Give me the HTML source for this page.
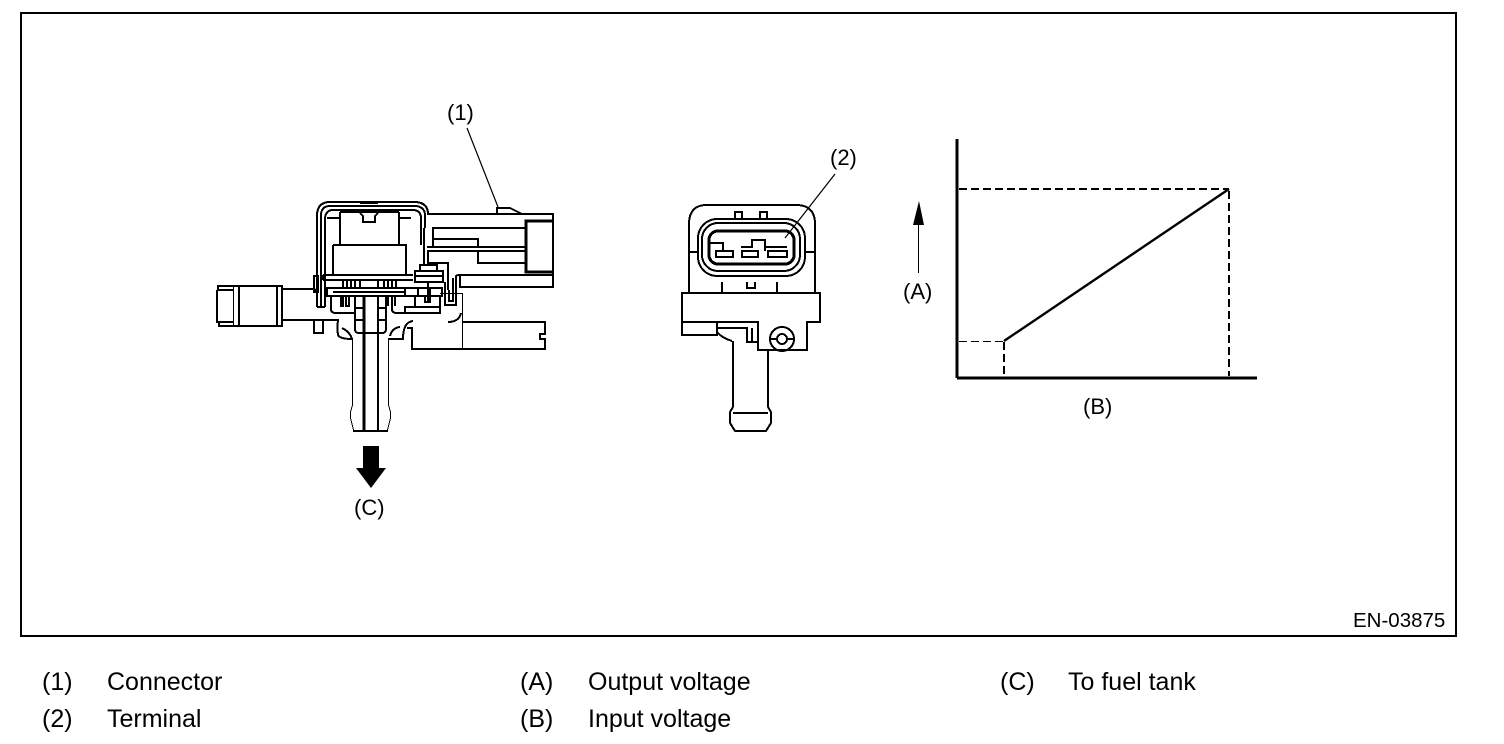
<!DOCTYPE html>
<html><head><meta charset="utf-8"><style>
html,body{margin:0;padding:0;background:#fff;width:1504px;height:744px;overflow:hidden}
svg{display:block}
text{font-family:"Liberation Sans",sans-serif;fill:#000}
.d{font-size:22px}.l{font-size:25px}
.t{fill:none;stroke:#000;stroke-width:2;shape-rendering:crispEdges}
.m{fill:none;stroke:#000;stroke-width:3;shape-rendering:crispEdges}
.n{fill:none;stroke:#000;stroke-width:1;shape-rendering:crispEdges}
</style></head><body>
<svg width="1504" height="744" viewBox="0 0 1504 744" xmlns="http://www.w3.org/2000/svg">
<rect x="21" y="13" width="1435" height="623" fill="none" stroke="#000" stroke-width="2" shape-rendering="crispEdges"/>

<!-- Left sensor: housing -->
<g>
<path class="t" d="M317 307V214Q318 202 330 202H416Q428 203 428 214H553V287H460V276"/>
<path class="t" d="M321 307V214Q322 206 330 206H416Q424 207 425 214V228"/>
<path class="t" d="M325 307V218Q326 210 333 210H414Q421 211 421 218V245"/>
<path class="t" d="M317 307H325M360 203H378"/>
<path class="t" d="M340 212V244M399 212V244"/>
<path class="t" d="M327 218H340M399 218H411M340 212H399"/>
<path class="t" d="M360 213L363 216V222H375V216L378 213"/>
<path class="t" d="M333 245H406V275M333 245V275"/>
<path class="t" d="M323 275H413M323 280H413M323 275V280"/>
<path class="t" d="M343 280V288M347 280V288M351 280V288M355 280V288M360 280V288M378 280V288M384 280V288M388 280V288M392 280V288M396 280V288"/>
<path class="t" d="M327 288H442V296H327ZM333 292H405"/>
<path class="t" d="M405 288V296M418 288V296M430 288V296"/>
<path class="t" d="M331 296V309Q331 313 336 313H355M392 296V309Q392 313 397 313H440V296"/>
<path class="t" d="M341 296V306H343V296M346 296V306H349V296M388 296V306M392 296V306M395 296V306"/>
<path class="t" d="M405 313V307H440M415 296V307M425 296V302H430V296"/>
<path class="t" d="M355 296V329Q355 333 359 333H382Q386 333 386 329V296M355 308H363M355 320H363M378 308H386M378 320H386"/>
<path class="m" d="M364 296V431"/>
<path class="t" d="M378 296V431"/>
<!-- stacked clip -->
<path class="t" d="M415 271H443V282H415ZM415 276H443M420 271V265H437V271M428 282V302"/>
<path class="t" d="M424 228V264"/>
<path class="t" d="M427 247H527M427 251H527M428 252V263H448V290"/>
<path class="t" d="M433 247V228H525M433 239H478V247M478 252V263H525"/>
<path class="m" d="M553 221H526V272H553"/>
<path class="t" d="M497 214V208H510L522 214"/>
<!-- U fold -->
<path class="t" d="M445 282V305H456V276Q457 275 460 275H553M449 290V301H453V278"/>
<path class="n" d="M440 293.5H462.5M462.5 293V349"/>
<path class="t" d="M448 322Q459 322 461 313"/>
<path class="t" d="M462 322H545V334H540V339H545V349H412V328H407"/>
<!-- stub -->
<path class="t" d="M217 290V322H233M217 290H233M218 290V286H282V326H219V322"/>
<path class="n" d="M233.5 286V326"/>
<path class="t" d="M239 286V326M277 286V326"/>
<path class="t" d="M282 289H314M314 289L318 292M282 320H338Q337 328 338 335Q340 339 352 339"/>
<path class="t" d="M314 320V333H323V320"/>
<path class="t" d="M342 328Q350 332 352 339"/>
<path class="t" d="M314 276H318V292H314Z"/>
<!-- tube -->
<path class="n" d="M352.5 339V405L350.5 412V418L353.5 430M388.5 339V405L390.5 412V418L387.5 430"/>
<path class="t" d="M353 431H388"/>
<path class="t" d="M388 339H403Q403 322 413 321M390 336Q392 328 400 327"/>
<path d="M363 446H379V468H386L371 488L356 468H363Z" fill="#000"/>
</g>

<!-- Middle connector -->
<g>
<path class="t" d="M689 293V222Q690 206 705 205H798Q814 206 815 222V293"/>
<path class="t" d="M689 252H698M805 252H815"/>
<path class="t" d="M735 218V212H742V218M760 218V212H767V218"/>
<rect class="t" x="698" y="219" width="107" height="57" rx="19"/>
<rect class="t" x="702" y="223" width="98" height="48" rx="16"/>
<rect class="m" x="709" y="231" width="85" height="33" rx="9"/>
<path class="t" d="M710 243H723V251M741 247H752V240H765V251M765 247H787"/>
<rect class="t" x="716" y="251" width="17" height="6"/>
<rect class="t" x="742" y="251" width="16" height="6"/>
<rect class="t" x="768" y="251" width="19" height="6"/>
<path class="t" d="M722 282V292M777 282V292M747 282V288H755V282"/>
<path class="t" d="M682 293H820V322H807V350H758V322H682Z"/>
<path class="t" d="M682 322V335H717V323M717 328H747V342H758M752 328V342"/>
<path class="t" d="M717 332Q722 338 732 341"/>
<circle class="t" cx="782" cy="339" r="12"/>
<circle class="t" cx="782" cy="339" r="5"/>
<path class="t" d="M770 339H777M787 339H794"/>
<path class="t" d="M733 341V407L730 412V423L735 431H766L771 423V412L768 407V350M733 413H768"/>
</g>

<!-- Leaders -->
<path d="M467 128L498 207M835 174L785 238" fill="none" stroke="#000" stroke-width="1.2"/>

<!-- Graph -->
<path d="M957 139V378" class="m"/>
<path d="M957 378H1257" class="m"/>
<path d="M959 189H1229M1229 191V376M1004 342V376" fill="none" stroke="#000" stroke-width="2" stroke-dasharray="8 4" shape-rendering="crispEdges"/>
<path d="M959 341.5H1004" fill="none" stroke="#000" stroke-width="1" stroke-dasharray="8 4" shape-rendering="crispEdges"/>
<path d="M1004 341L1229 189" fill="none" stroke="#000" stroke-width="2.4"/>
<path d="M919 201L924 225H913Z" fill="#000"/>
<path d="M918.5 224V273" class="n"/>

<!-- Labels -->
<text class="d" x="447" y="120">(1)</text>
<text class="d" x="830" y="165">(2)</text>
<text class="d" x="903" y="299">(A)</text>
<text class="d" x="1083" y="414">(B)</text>
<text class="d" x="354" y="515">(C)</text>
<text x="1353" y="627" style="font-size:20.5px">EN-03875</text>

<text class="l" x="42" y="690">(1)</text><text class="l" x="107" y="690">Connector</text>
<text class="l" x="42" y="727">(2)</text><text class="l" x="107" y="727">Terminal</text>
<text class="l" x="520" y="690">(A)</text><text class="l" x="588" y="690">Output voltage</text>
<text class="l" x="520" y="727">(B)</text><text class="l" x="588" y="727">Input voltage</text>
<text class="l" x="1000" y="690">(C)</text><text class="l" x="1068" y="690">To fuel tank</text>
</svg>
</body></html>
